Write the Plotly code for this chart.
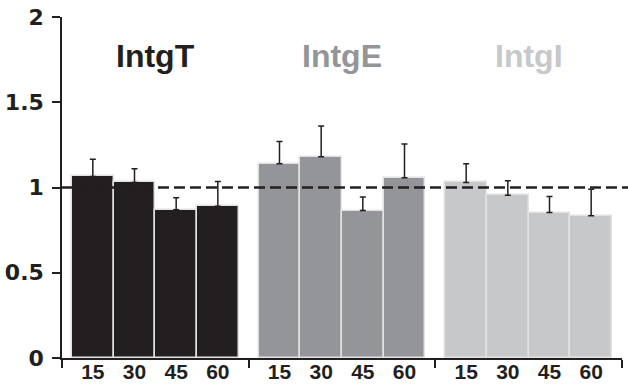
import plotly.graph_objects as go

GROUPS = ["IntgT", "IntgE", "IntgI"]
MINUTES = ["15", "30", "45", "60"]
MEANS = {
    "IntgT": [1.065, 1.03, 0.87, 0.89],
    "IntgE": [1.14, 1.18, 0.865, 1.057],
    "IntgI": [1.03, 0.955, 0.853, 0.835],
}
UPPER_ERR = {
    "IntgT": [0.10, 0.08, 0.07, 0.145],
    "IntgE": [0.13, 0.18, 0.08, 0.198],
    "IntgI": [0.11, 0.085, 0.094, 0.155],
}
REF_LEVEL = 1.0
Y_TICKS = [0, 0.5, 1, 1.5, 2]
Y_TICKTEXT = ["0", "0.5", "1", "1.5", "2"]

COLORS = {"IntgT": "#231f20", "IntgE": "#939598", "IntgI": "#c7c8ca"}
INK = "#231f20"
FONT = "Liberation Sans, Arial, sans-serif"

PAD = 0.24
GROUP_W = len(MINUTES) + 2 * PAD

fig = go.Figure()
centers = []
for g, name in enumerate(GROUPS):
    xs = [g * GROUP_W + PAD + i + 0.5 for i in range(len(MINUTES))]
    centers += xs
    fig.add_trace(
        go.Bar(
            x=xs,
            y=MEANS[name],
            width=1,
            marker=dict(color=COLORS[name], line=dict(color="#e2e2e2", width=1.5)),
            error_y=dict(
                type="data",
                symmetric=False,
                array=UPPER_ERR[name],
                arrayminus=[0] * len(MINUTES),
                color=INK,
                thickness=1.5,
                width=3,
            ),
            name=name,
        )
    )
    fig.add_annotation(
        x=(g + 0.5) * GROUP_W,
        y=1.77,
        text=name,
        showarrow=False,
        font=dict(family=FONT, size=32, color=COLORS[name], weight="bold"),
    )

# dashed reference line at 1, running off the right edge
fig.add_shape(
    type="line",
    xref="paper",
    yref="y",
    x0=0,
    x1=1.02,
    y0=REF_LEVEL,
    y1=REF_LEVEL,
    line=dict(color=INK, width=2.5, dash="11px,5px"),
    layer="above",
)

fig.update_layout(
    width=628,
    height=385,
    margin=dict(l=62, r=6, t=17, b=27),
    plot_bgcolor="white",
    paper_bgcolor="white",
    showlegend=False,
    bargap=0,
    xaxis=dict(
        range=[0, len(GROUPS) * GROUP_W],
        tickmode="array",
        tickvals=centers,
        ticktext=MINUTES * len(GROUPS),
        ticks="",
        showgrid=False,
        zeroline=False,
        showline=True,
        linecolor=INK,
        linewidth=1.5,
        automargin=False,
        tickfont=dict(family=FONT, size=21, color=INK, weight="bold"),
        ticklabelstandoff=-6,
        minor=dict(
            tickmode="array",
            tickvals=[g * GROUP_W for g in range(len(GROUPS) + 1)],
            ticks="outside",
            ticklen=8,
            tickwidth=1.5,
            tickcolor=INK,
            showgrid=False,
        ),
    ),
    yaxis=dict(
        range=[0, 2],
        tickmode="array",
        tickvals=Y_TICKS,
        ticktext=Y_TICKTEXT,
        ticks="outside",
        ticklen=8,
        tickwidth=1.5,
        tickcolor=INK,
        showgrid=False,
        zeroline=False,
        showline=True,
        linecolor=INK,
        linewidth=1.5,
        automargin=False,
        ticklabelstandoff=4,
        tickfont=dict(family="DejaVu Sans", size=22, color=INK, weight="bold"),
    ),
)

# drop the browser's default body margin so the figure fills the window
fig.write_html(
    "out.html",
    config={"displayModeBar": False},
    post_script="document.body.style.margin = '0';",
)
